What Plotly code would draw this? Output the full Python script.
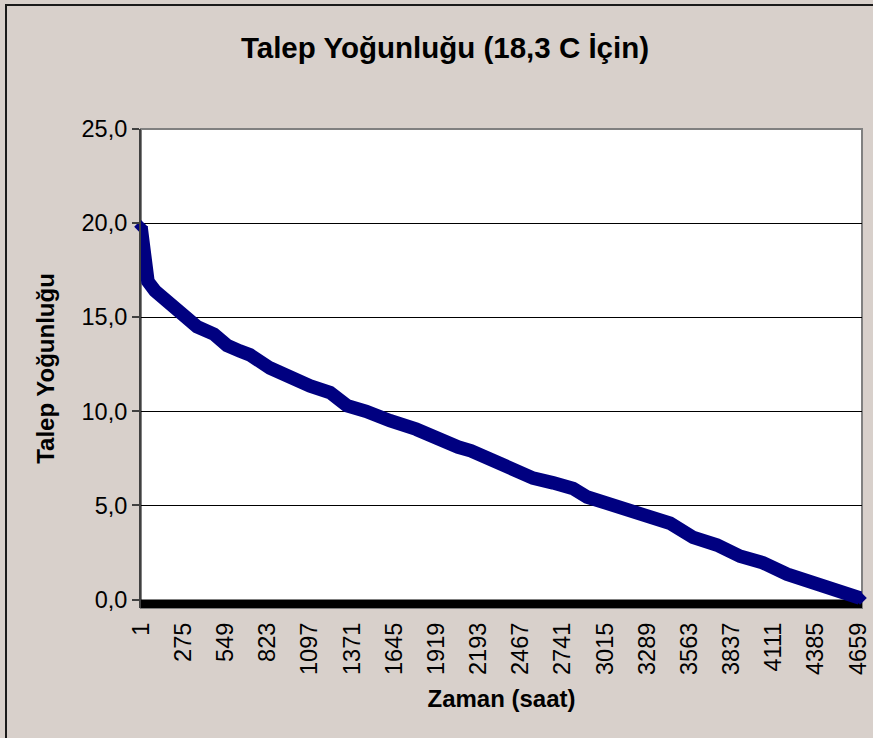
import plotly.graph_objects as go

# ---- data ----
hours = [1, 7, 14, 20, 27, 46, 92, 144, 209, 280, 365, 475, 560, 644, 709,
         839, 969, 1099, 1229, 1339, 1463, 1534, 1619, 1788, 1924, 2009, 2061,
         2145, 2275, 2418, 2548, 2678, 2808, 2899, 3029, 3166, 3244, 3309,
         3438, 3588, 3743, 3893, 4042, 4198, 4348, 4477, 4588, 4672]
demand = [19.8, 19.2, 18.6, 18.0, 17.4, 16.9, 16.4, 16.0, 15.5, 15.1, 14.5,
          14.1, 13.5, 13.2, 13.0, 12.3, 11.8, 11.35, 11.0, 10.3, 10.0, 9.85,
          9.5, 9.05, 8.5, 8.3, 8.1, 7.9, 7.4, 6.9, 6.45, 6.2, 5.9, 5.45, 5.1,
          4.75, 4.5, 4.35, 4.05, 3.3, 2.9, 2.3, 1.95, 1.35, 1.0, 0.65, 0.3, 0.08]
x_tick_vals = [1, 275, 549, 823, 1097, 1371, 1645, 1919, 2193, 2467, 2741,
               3015, 3289, 3563, 3837, 4111, 4385, 4659]
x_tick_text = [str(v) for v in x_tick_vals]
y_tick_vals = [0, 5, 10, 15, 20, 25]
y_tick_text = ["0,0", "5,0", "10,0", "15,0", "20,0", "25,0"]
grid_vals = [5, 10, 15, 20]

title_text = "Talep Yoğunluğu (18,3 C İçin)"
x_title = "Zaman (saat)"
y_title = "Talep Yoğunluğu"

# ---- layout geometry ----
W, H = 873, 738
ML, MR, MT, MB = 141, 11, 129, 130
YMIN, YMAX = -0.45, 25
XMIN, XMAX = 1, 4685
plot_w = W - ML - MR
plot_h = H - MT - MB

def px_to_paper_x(px):
    return (px - ML) / plot_w

def py_to_paper_y(py):
    return (H - MB - py) / plot_h

NAVY = "#000080"
BG = "#D8D0CB"
FONT = "Arial, Liberation Sans, sans-serif"

fig = go.Figure()
fig.add_trace(go.Scatter(
    x=hours, y=demand, mode="lines",
    line=dict(color=NAVY, width=13.5),
    hoverinfo="x+y", showlegend=False, cliponaxis=False,
))
fig.add_trace(go.Scatter(
    x=[hours[0], hours[-1]], y=[demand[0], demand[-1]], mode="markers",
    marker=dict(symbol="diamond", size=10.5, color=NAVY),
    showlegend=False, cliponaxis=False, hoverinfo="skip",
))

shapes = [
    # plot-area border
    dict(type="rect", xref="paper", yref="paper", x0=0, x1=1, y0=0, y1=1,
         line=dict(color="#808080", width=2), fillcolor="rgba(0,0,0,0)",
         layer="below"),
    # thick black band along the zero line
    dict(type="rect", xref="x domain", yref="y", x0=0, x1=1, y0=YMIN, y1=0,
         line=dict(width=0), fillcolor="black", layer="below"),
    # outer chart border (left and top edges visible)
    dict(type="rect", xref="paper", yref="paper",
         x0=px_to_paper_x(6), x1=px_to_paper_x(900),
         y0=py_to_paper_y(760), y1=py_to_paper_y(5),
         line=dict(color="#1a1a1a", width=2), fillcolor="rgba(0,0,0,0)",
         layer="below"),
]

fig.update_layout(
    width=W, height=H,
    margin=dict(l=ML, r=MR, t=MT, b=MB, pad=0, autoexpand=False),
    paper_bgcolor=BG, plot_bgcolor="white",
    font=dict(family=FONT, color="black", size=23),
    title=dict(text="<b>" + title_text + "</b>", x=445 / W, xref="container",
               xanchor="center", y=1 - 48 / H, yref="container",
               yanchor="middle", font=dict(size=29.5, family=FONT)),
    shapes=shapes,
    showlegend=False,
    xaxis=dict(
        range=[XMIN, XMAX], tickmode="array", tickvals=x_tick_vals,
        ticktext=x_tick_text, tickangle=-90, ticks="", showgrid=False,
        zeroline=False, showline=False, ticklabelstandoff=9, automargin=False,
        tickfont=dict(size=23.5, family=FONT),
        title=dict(text="<b>" + x_title + "</b>", font=dict(size=24, family=FONT),
                   standoff=16),
    ),
    yaxis=dict(
        range=[YMIN, YMAX], tickmode="array", tickvals=y_tick_vals,
        ticktext=y_tick_text, tickangle=0, ticks="outside", ticklen=7, tickwidth=1.5,
        tickcolor="#404040", showgrid=False, zeroline=False, automargin=False,
        showline=True, linecolor="#404040", linewidth=2,
        tickfont=dict(size=23.5, family=FONT),
        minor=dict(tickmode="array", tickvals=grid_vals, showgrid=True,
                   gridcolor="black", gridwidth=1, ticks=""),
        title=dict(text="<b>" + y_title + "</b>", font=dict(size=24, family=FONT),
                   standoff=20),
    ),
)

fig.write_html(
    "out.html", config={"displayModeBar": False},
    post_script="document.body.style.margin='0';"
                "document.body.style.overflow='hidden';"
                "document.documentElement.style.overflow='hidden';",
)
